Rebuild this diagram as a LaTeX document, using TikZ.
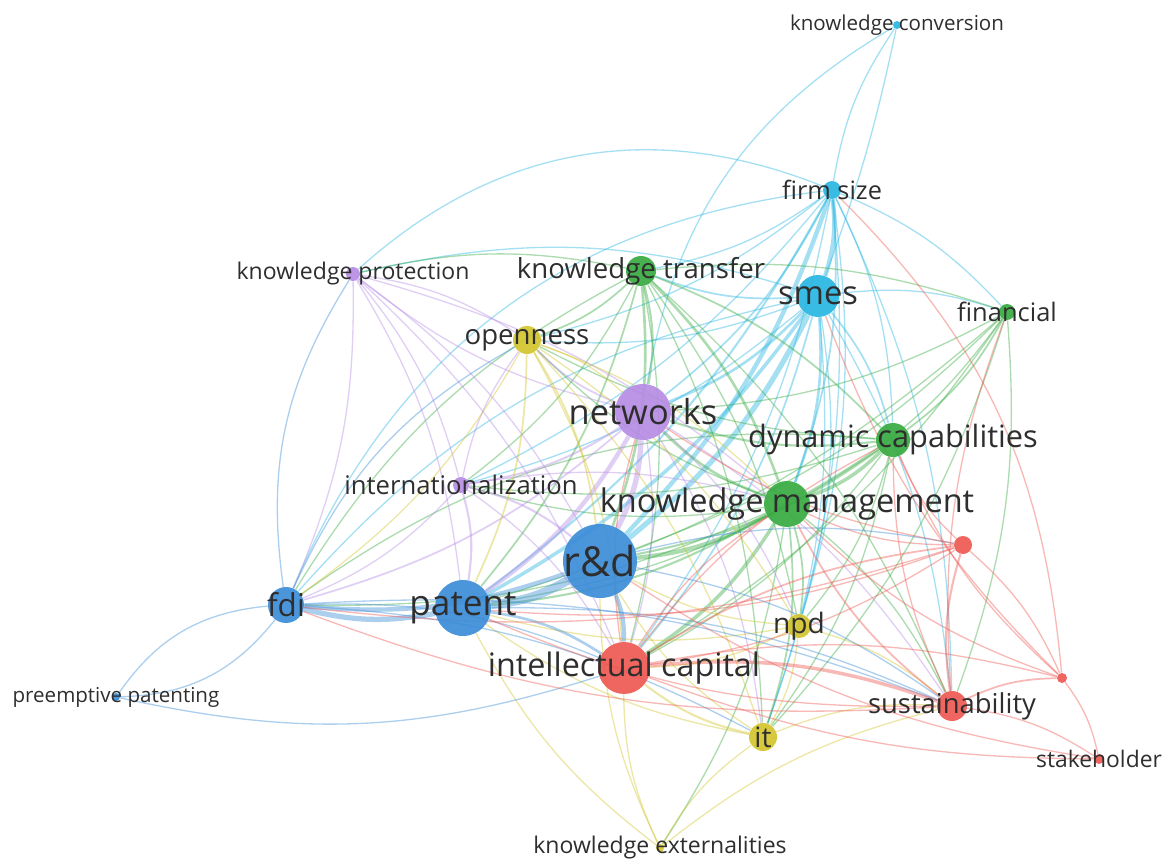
\documentclass[tikz,border=0pt]{standalone}
\usepackage{fontspec}
\setmainfont{Open Sans}
\usepackage{xcolor}
\usetikzlibrary{backgrounds}
\definecolor{vblue}{RGB}{60,140,215}
\definecolor{vcyan}{RGB}{40,182,225}
\definecolor{vgreen}{RGB}{55,170,65}
\definecolor{vpurple}{RGB}{182,140,228}
\definecolor{vyellow}{RGB}{210,196,45}
\definecolor{vred}{RGB}{238,88,82}

\begin{document}
\begin{tikzpicture}[x=0.02cm, y=-0.02cm,
    term/.style={circle, inner sep=0pt, minimum size=#1*0.04cm, fill opacity=0.92},
    lbl/.style={text=black!82, inner sep=0pt, font=\fontsize{#1}{#1}\selectfont},
    link/.style={line width=0.75pt, draw opacity=0.42, bend left=12},
    bl/.style={link, draw=vblue},
    cy/.style={link, draw=vcyan},
    gr/.style={link, draw=vgreen},
    pu/.style={link, draw=vpurple},
    ye/.style={link, draw=vyellow},
    re/.style={link, draw=vred}
]
\useasboundingbox (0,0) rectangle (1162,858);

% terms
\node[term=4,  fill=vcyan]   (kc)  at (897,25)  {};
\node[term=9,  fill=vcyan]   (fs)  at (832,190) {};
\node[term=21, fill=vcyan]   (sm)  at (818,296) {};
\node[term=8,  fill=vgreen]  (fin) at (1007,312) {};
\node[term=15, fill=vgreen]  (kt)  at (641,271) {};
\node[term=7,  fill=vpurple] (kp)  at (353,274) {};
\node[term=14, fill=vyellow] (op)  at (527,340) {};
\node[term=28, fill=vpurple] (nw)  at (643,412) {};
\node[term=17, fill=vgreen]  (dc)  at (893,440) {};
\node[term=8,  fill=vpurple] (int) at (461,485) {};
\node[term=23, fill=vgreen]  (km)  at (787,504) {};
\node[term=9,  fill=vred]    (ra)  at (963,545) {};
\node[term=37, fill=vblue]   (rd)  at (600,561) {};
\node[term=18, fill=vblue]   (fdi) at (286,605) {};
\node[term=28, fill=vblue]   (pat) at (463,608) {};
\node[term=12, fill=vyellow] (npd) at (799,626) {};
\node[term=26, fill=vred]    (ic)  at (624,668) {};
\node[term=4,  fill=vblue]   (pp)  at (116,697) {};
\node[term=5,  fill=vred]    (rb)  at (1062,678) {};
\node[term=15, fill=vred]    (sus) at (952,706) {};
\node[term=14, fill=vyellow] (it)  at (763,737) {};
\node[term=5,  fill=vred]    (sh)  at (1099,759) {};
\node[term=4,  fill=vyellow] (ke)  at (660,848) {};

% labels
\node[lbl=11.7] (kclbl)  at (kc)  {knowledge conversion};
\node[lbl=14.4] (fslbl)  at (fs)  {firm size};
\node[lbl=18.6] (smlbl)  at (sm)  {smes};
\node[lbl=14.5] (finlbl) at (fin) {financial};
\node[lbl=15.7] (ktlbl)  at (kt)  {knowledge transfer};
\node[lbl=13.1] (kplbl)  at (kp)  {knowledge protection};
\node[lbl=15.7] (oplbl)  at (op)  {openness};
\node[lbl=19.6] (nwlbl)  at (nw)  {networks};
\node[lbl=17.5] (dclbl)  at (dc)  {dynamic capabilities};
\node[lbl=14.6] (intlbl) at (int) {internationalization};
\node[lbl=18.5] (kmlbl)  at (km)  {knowledge management};
\node[lbl=23.5] (rdlbl)  at (rd)  {r\&d};
\node[lbl=17.9] (fdilbl) at (fdi) {fdi};
\node[lbl=20]   (patlbl) at (pat) {patent};
\node[lbl=16]   (npdlbl) at (npd) {npd};
\node[lbl=18.4] (iclbl)  at (ic)  {intellectual capital};
\node[lbl=11.7] (pplbl)  at (pp)  {preemptive patenting};
\node[lbl=15.6] (suslbl) at (sus) {sustainability};
\node[lbl=16]   (itlbl)  at (it)  {it};
\node[lbl=13]   (shlbl)  at (sh)  {stakeholder};
\node[lbl=13.1] (kelbl)  at (ke)  {knowledge externalities};

\begin{pgfonlayer}{background}
% cyan cluster
\draw[cy] (fs) to (kc);
\draw[cy, bend left=4] (kc) to (sm);
\draw[cy, bend right=25] (kc) to (nw);
\draw[cy, line width=2.5pt] (fs) to (sm);
\draw[cy, line width=2.5pt] (fs) to (rd);
\draw[cy, line width=1.2pt] (fs) to (pat);
\draw[cy, line width=1pt] (fs) to (nw);
\draw[cy, line width=1pt] (fs) to (km);
\draw[cy] (fs) to (dc);
\draw[cy] (fs) to (fin);
\draw[cy] (fs) to (kt);
\draw[cy] (fs) to (op);
\draw[cy, bend right=32] (fs) to (kp);
\draw[cy] (fs) to (int);
\draw[cy, bend right=30] (fs) to (fdi);
\draw[cy] (fs) to (ic);
\draw[cy] (fs) to (it);
\draw[cy] (fs) to (npd);
\draw[cy] (fs) to (sus);
\draw[cy, line width=3pt] (sm) to (rd);
\draw[cy, line width=2pt] (sm) to (pat);
\draw[cy, line width=1.5pt] (sm) to (nw);
\draw[cy, line width=1.5pt] (sm) to (km);
\draw[cy, line width=1pt] (sm) to (dc);
\draw[cy] (sm) to (fin);
\draw[cy, line width=1pt] (sm) to (kt);
\draw[cy] (sm) to (op);
\draw[cy] (sm) to (int);
\draw[cy, bend right=18] (sm) to (fdi);
\draw[cy, bend right=15] (sm) to (kp);
\draw[cy, line width=1pt] (sm) to (ic);
\draw[cy] (sm) to (it);
\draw[cy] (sm) to (npd);
\draw[cy] (sm) to (sus);
% green cluster
\draw[gr, line width=1.2pt] (kt) to (nw);
\draw[gr, line width=1.5pt] (kt) to (km);
\draw[gr, line width=1pt] (kt) to (dc);
\draw[gr, line width=1.5pt] (kt) to (rd);
\draw[gr, line width=1pt] (kt) to (pat);
\draw[gr, line width=1pt] (kt) to (op);
\draw[gr] (kt) to (fin);
\draw[gr] (kt) to (ic);
\draw[gr] (kt) to (it);
\draw[gr] (kt) to (npd);
\draw[gr] (kt) to (int);
\draw[gr] (kt) to (sus);
\draw[gr, bend right=15] (kt) to (fdi);
\draw[gr] (kp) to (kt);
\draw[gr, line width=1pt] (fin) to (dc);
\draw[gr] (fin) to (km);
\draw[gr] (fin) to (nw);
\draw[gr] (fin) to (ic);
\draw[gr] (fin) to (sus);
\draw[gr] (fin) to (rd);
\draw[gr] (fin) to (it);
\draw[gr] (fin) to (pat);
\draw[gr, line width=2pt] (dc) to (km);
\draw[gr, line width=1.2pt] (dc) to (nw);
\draw[gr, line width=1.2pt] (dc) to (rd);
\draw[gr] (dc) to (ic);
\draw[gr] (dc) to (it);
\draw[gr] (dc) to (npd);
\draw[gr] (dc) to (pat);
\draw[gr] (dc) to (op);
\draw[gr] (dc) to (int);
\draw[gr, bend right=20] (dc) to (fdi);
\draw[gr, line width=2.5pt] (km) to (rd);
\draw[gr, line width=1.5pt] (km) to (nw);
\draw[gr, line width=2pt] (km) to (ic);
\draw[gr, line width=1.2pt] (km) to (pat);
\draw[gr, line width=1pt] (km) to (npd);
\draw[gr, line width=1pt] (km) to (it);
\draw[gr] (km) to (op);
\draw[gr] (km) to (fdi);
\draw[gr] (km) to (int);
\draw[gr] (km) to (ke);
\draw[gr] (km) to (sus);
% purple cluster
\draw[pu, line width=3pt] (nw) to (rd);
\draw[pu, line width=2.5pt] (nw) to (pat);
\draw[pu, line width=1.2pt] (nw) to (int);
\draw[pu, line width=1pt] (nw) to (fdi);
\draw[pu, line width=1pt] (nw) to (op);
\draw[pu] (nw) to (kp);
\draw[pu] (nw) to (ic);
\draw[pu] (nw) to (npd);
\draw[pu] (nw) to (it);
\draw[pu] (nw) to (sus);
\draw[pu] (kp) to (pat);
\draw[pu] (kp) to (rd);
\draw[pu] (kp) to (int);
\draw[pu] (kp) to (op);
\draw[pu] (kp) to (ic);
\draw[pu] (kp) to (fdi);
\draw[pu] (kp) to (km);
\draw[pu, line width=1.2pt] (int) to (pat);
\draw[pu, line width=1.2pt] (int) to (rd);
\draw[pu] (int) to (fdi);
\draw[pu] (int) to (ic);
\draw[pu] (int) to (op);
\draw[pu] (int) to (km);
% yellow cluster
\draw[ye, line width=1pt] (op) to (rd);
\draw[ye, line width=1pt] (op) to (pat);
\draw[ye] (op) to (ic);
\draw[ye] (op) to (it);
\draw[ye] (op) to (npd);
\draw[ye] (op) to (fdi);
\draw[ye] (op) to (km);
\draw[ye] (op) to (nw);
\draw[ye] (npd) to (rd);
\draw[ye] (npd) to (ic);
\draw[ye] (npd) to (it);
\draw[ye] (npd) to (sus);
\draw[ye] (npd) to (pat);
\draw[ye, line width=1.2pt] (it) to (ic);
\draw[ye] (it) to (rd);
\draw[ye] (it) to (sus);
\draw[ye] (it) to (pat);
\draw[ye] (ke) to (it);
\draw[ye] (ke) to (ic);
\draw[ye] (ke) to (rd);
\draw[ye] (ke) to (pat);
\draw[ye] (ke) to (sus);
% blue cluster
\draw[bl, line width=5pt] (rd) to (pat);
\draw[bl, line width=2.5pt] (rd) to (fdi);
\draw[bl, line width=2.5pt] (rd) to (ic);
\draw[bl] (rd) to (sus);
\draw[bl] (rd) to (ra);
\draw[bl, line width=3pt] (pat) to (fdi);
\draw[bl, line width=1.5pt] (pat) to (ic);
\draw[bl] (pat) to (sus);
\draw[bl, bend left=25] (fdi) to (pp);
\draw[bl, bend left=25] (pp) to (fdi);
\draw[bl, bend right=15] (pp) to (ic);
\draw[bl] (fdi) to (ic);
\draw[bl] (fdi) to (it);
\draw[bl] (fdi) to (sus);
\draw[bl, bend left=20] (fdi) to (kp);
\draw[bl, bend left=18] (fdi) to (op);
% red cluster
\draw[re, line width=2pt] (ic) to (sus);
\draw[re, line width=1pt] (ic) to (ra);
\draw[re] (ic) to (rb);
\draw[re, bend right=10] (ic) to (sh);
\draw[re] (ic) to (dc);
\draw[re] (ic) to (km);
\draw[re] (ic) to (nw);
\draw[re, line width=1.2pt] (sus) to (ra);
\draw[re, line width=1pt] (sus) to (rb);
\draw[re] (sus) to (sh);
\draw[re, line width=1pt] (sus) to (km);
\draw[re] (sus) to (dc);
\draw[re] (sus) to (fin);
\draw[re] (sus) to (pat);
\draw[re] (sus) to (fdi);
\draw[re] (ra) to (rb);
\draw[re] (ra) to (dc);
\draw[re] (ra) to (km);
\draw[re] (ra) to (pat);
\draw[re] (ra) to (nw);
\draw[re] (ra) to (fdi);
\draw[re] (ra) to (ic);
\draw[re] (rb) to (sh);
\draw[re] (rb) to (km);
\draw[re] (rb) to (dc);
\draw[re, bend right=20] (rb) to (fs);
\draw[re] (rb) to (sm);
\draw[re] (sh) to (rd);
\end{pgfonlayer}
\end{tikzpicture}
\end{document}
